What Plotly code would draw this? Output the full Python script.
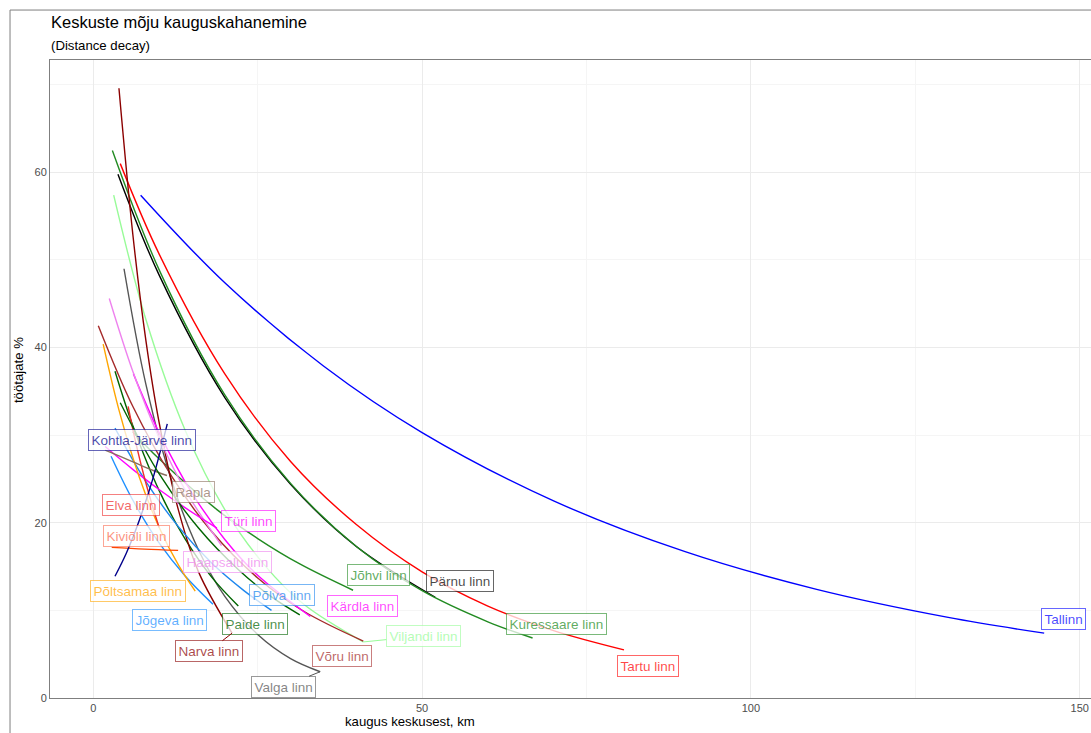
import plotly.graph_objects as go

# ---------------- data ----------------
cities = ["Tallinn", "Tartu linn", "Pärnu linn", "Kuressaare linn", "Jõhvi linn",
          "Viljandi linn", "Võru linn", "Valga linn", "Kärdla linn", "Paide linn",
          "Narva linn", "Põlva linn", "Jõgeva linn", "Haapsalu linn", "Türi linn",
          "Põltsamaa linn", "Kiviõli linn", "Elva linn", "Rapla", "Kohtla-Järve linn", ""]

tallinn_x = [7.2, 20, 35, 50, 70, 90, 110, 130, 144.6]
tallinn_y = [57.4, 47.4, 37.9, 30.3, 22.5, 16.7, 12.4, 9.2, 7.4]
tartu_x = [4.1, 10, 20, 30, 40, 50, 60, 70, 80.7]
tartu_y = [61.0, 50.7, 37.0, 27.0, 19.8, 14.4, 10.5, 7.7, 5.5]
parnu_x = [3.75, 10, 20, 30, 40, 52]
parnu_y = [59.8, 48.3, 34.3, 24.4, 17.3, 11.5]
kuressaare_x = [2.9, 10, 20, 30, 40, 50, 60, 66.8]
kuressaare_y = [62.5, 48.9, 34.6, 24.5, 17.3, 12.25, 8.7, 6.85]
johvi_x = [6.0, 10, 18.8, 25, 31.4, 39.5]
johvi_y = [30.4, 27.3, 21.5, 18.2, 15.3, 12.3]
viljandi_x = [3.1, 8, 14, 20, 26, 32, 41.06]
viljandi_y = [57.4, 43.2, 30.5, 21.5, 15.2, 10.7, 6.4]
voru_x = [0.76, 6, 12, 18, 25, 32, 41.06]
voru_y = [42.5, 33.3, 25.2, 19.0, 13.7, 9.9, 6.5]
valga_x = [4.67, 8, 12, 16, 20, 25, 30, 34.5]
valga_y = [49.0, 35.8, 24.6, 16.9, 11.6, 7.25, 4.5, 3.0]
kardla_x = [6.1, 10, 15, 20, 25, 33]
kardla_y = [37.0, 30.3, 23.4, 18.1, 14.0, 9.3]
paide_x = [3.3, 6, 10, 14, 18, 22.05]
paide_y = [37.3, 31.1, 23.7, 18.1, 13.8, 10.5]
narva_x = [3.9, 6, 8, 10, 13, 16, 21.1]
narva_y = [69.6, 53.0, 40.8, 31.5, 21.3, 14.4, 7.4]
polva_x = [3.3, 8, 13, 18, 23, 27.1]
polva_y = [30.8, 24.7, 19.5, 15.4, 12.2, 10.0]
jogeva_x = [2.7, 6, 10, 14, 18.2]
jogeva_y = [27.6, 22.6, 17.7, 13.9, 10.7]
haapsalu_x = [2.43, 6, 10, 14, 19.5]
haapsalu_y = [45.6, 37.3, 29.7, 23.7, 17.4]
turi_x = [1.8, 6, 10, 14, 18.8]
turi_y = [28.7, 26.1, 23.8, 21.7, 19.4]
poltsamaa_x = [1.5, 4, 7, 10, 13, 15.5]
poltsamaa_y = [40.4, 32.6, 25.2, 19.5, 15.1, 12.2]
kivioli_x = [2.8, 7.8, 12.9]
kivioli_y = [17.2, 17.0, 16.85]
elva_x = [5.3, 6.5, 7.9, 9.0, 10.0]
elva_y = [33.3, 29.0, 24.8, 21.9, 19.5]
rapla_x = [1.8, 4, 6.5, 9, 11.2]
rapla_y = [28.3, 27.6, 26.8, 26.0, 25.4]
kohtla_x = [3.3, 5, 7, 9, 11.25]
kohtla_y = [13.9, 16.5, 20.3, 24.9, 31.3]
other_x = [4.1, 10, 16, 22, 27, 31.4]
other_y = [33.7, 25.6, 19.4, 14.7, 11.6, 9.5]

series_x = [tallinn_x, tartu_x, parnu_x, kuressaare_x, johvi_x, viljandi_x, voru_x,
            valga_x, kardla_x, paide_x, narva_x, polva_x, jogeva_x, haapsalu_x,
            turi_x, poltsamaa_x, kivioli_x, elva_x, rapla_x, kohtla_x, other_x]
series_y = [tallinn_y, tartu_y, parnu_y, kuressaare_y, johvi_y, viljandi_y, voru_y,
            valga_y, kardla_y, paide_y, narva_y, polva_y, jogeva_y, haapsalu_y,
            turi_y, poltsamaa_y, kivioli_y, elva_y, rapla_y, kohtla_y, other_y]

x_ticks = [0, 50, 100, 150]
y_ticks = [0, 20, 40, 60]

# ---------------- styles ----------------
colors = ["#0000FF", "#FF0000", "#000000", "#228B22", "#228B22",
          "#98FB98", "#A52A2A", "#555555", "#FF00FF", "#006400",
          "#8B0000", "#1C86EE", "#1E90FF", "#EE82EE", "#FF00FF",
          "#FFA500", "#FF4500", "#EE2C2C", "#8B6F5E", "#00008B", "#006400"]
label_colors = list(colors)
label_colors[16] = "#FA6A50"   # Kiviõli label reads as salmon

# label offsets (pixels) from the end of each curve, and whether a connector is drawn
label_offsets = [(19, -14), (24, 16), (25, -16), (24, -14), (25, -15),
                 (60, -6), (-21, 15), (-37, 15), (52, -11), (17, 18),
                 (-23, 18), (10, -15), (-43, 16), (6, 16), (32, -7),
                 (-57, 0), (-42, -14), (-28, -22), (27, 17), (-25, 16), None]
connectors = [False, False, False, False, False, True, False, True, False, False,
              True, False, False, False, False, False, False, False, False, False, False]


def rgba(hex_color, a):
    h = hex_color.lstrip("#")
    r, g, b = int(h[0:2], 16), int(h[2:4], 16), int(h[4:6], 16)
    return f"rgba({r},{g},{b},{a})"


FONT = "Liberation Sans, Arial, Helvetica, sans-serif"

fig = go.Figure()
for name, xs, ys, col in zip(cities, series_x, series_y, colors):
    fig.add_trace(go.Scatter(
        x=xs, y=ys, mode="lines", name=name or "muu",
        line=dict(color=col, width=1.4, shape="spline", smoothing=1.0),
        hoverinfo="skip", showlegend=False))

annotations = []
for name, xs, ys, col, lcol, off, con in zip(cities, series_x, series_y, colors,
                                              label_colors, label_offsets, connectors):
    if not name or off is None:
        continue
    annotations.append(dict(
        x=xs[-1], y=ys[-1], xref="x", yref="y",
        text=name, showarrow=True, ax=off[0], ay=off[1],
        arrowhead=0, arrowwidth=1, standoff=0,
        arrowcolor=col if con else "rgba(0,0,0,0)",
        font=dict(family=FONT, size=13.5, color=rgba(lcol, 0.72)),
        bgcolor="rgba(255,255,255,0.75)",
        bordercolor=rgba(lcol, 0.6), borderwidth=1, borderpad=2.5))

# title, subtitle, axis titles
annotations += [
    dict(text="Keskuste mõju kauguskahanemine", xref="paper", yref="paper",
         x=-0.001, y=1.0595, xanchor="left", yanchor="middle", showarrow=False,
         font=dict(family=FONT, size=16.5, color="#000000")),
    dict(text="(Distance decay)", xref="paper", yref="paper",
         x=-0.001, y=1.0235, xanchor="left", yanchor="middle", showarrow=False,
         font=dict(family=FONT, size=13.2, color="#000000")),
    dict(text="kaugus keskusest, km", xref="paper", yref="paper",
         x=0.3458, y=-0.0375, xanchor="center", yanchor="middle", showarrow=False,
         font=dict(family=FONT, size=13.2, color="#000000")),
    dict(text="töötajate %", xref="paper", yref="paper", textangle=-90,
         x=-0.0307, y=0.514, xanchor="center", yanchor="middle", showarrow=False,
         font=dict(family=FONT, size=13.2, color="#000000")),
]

fig.update_layout(
    width=1091, height=733,
    margin=dict(l=50, r=0, t=60, b=35),
    paper_bgcolor="white", plot_bgcolor="white",
    showlegend=False, hovermode=False,
    annotations=annotations,
    shapes=[dict(type="rect", xref="paper", yref="paper",
                 x0=-0.0384, x1=1.05, y0=-0.2, y1=1.0783,
                 line=dict(color="#7F7F7F", width=1), layer="above")],
    xaxis=dict(range=[-6.585, 151.72], tickvals=x_ticks,
               ticktext=[str(v) for v in x_ticks],
               showgrid=True, gridcolor="#EBEBEB", gridwidth=1,
               minor=dict(dtick=25, tick0=0, showgrid=True, gridcolor="#F5F5F5", gridwidth=1),
               zeroline=False, showline=True, linecolor="#7F7F7F", linewidth=1, mirror=True,
               ticks="", tickfont=dict(family=FONT, size=11, color="#4D4D4D")),
    yaxis=dict(range=[0, 72.83], tickvals=y_ticks,
               ticktext=[str(v) for v in y_ticks],
               showgrid=True, gridcolor="#EBEBEB", gridwidth=1,
               minor=dict(dtick=10, tick0=0, showgrid=True, gridcolor="#F5F5F5", gridwidth=1),
               zeroline=False, showline=True, linecolor="#7F7F7F", linewidth=1, mirror=True,
               ticks="", tickfont=dict(family=FONT, size=11, color="#4D4D4D")),
)

fig.write_html("out.html", config={"displayModeBar": False},
               post_script="document.body.style.margin='0';")
